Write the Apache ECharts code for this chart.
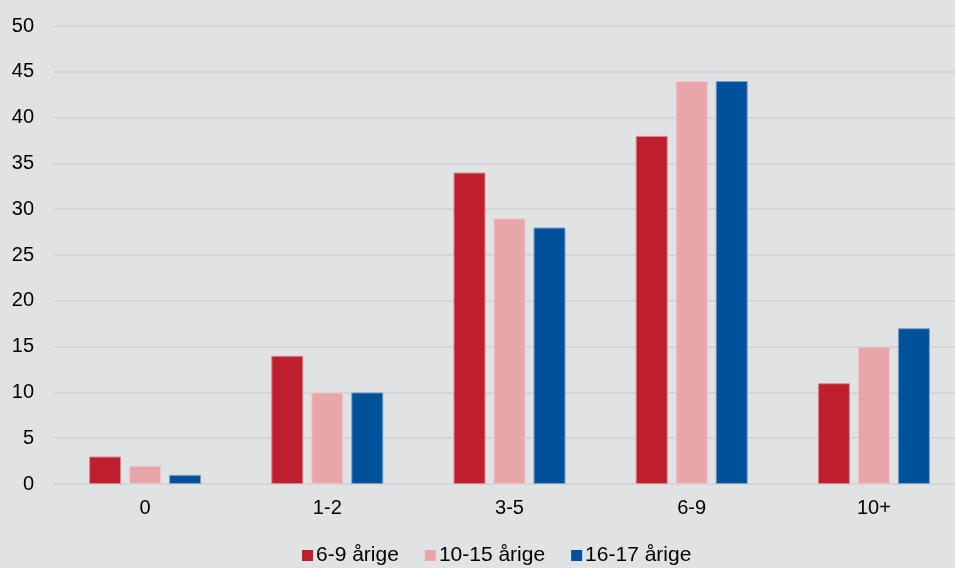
<!DOCTYPE html>
<html><head><meta charset="utf-8">
<script src="https://cdn.jsdelivr.net/npm/echarts@6/dist/echarts.min.js"></script>
<style>html,body{margin:0;padding:0;background:#e1e2e4;overflow:hidden;width:955px;height:568px}#c{width:965px;height:568px}</style>
</head><body><div id="c"></div>
<script>
const categories = ['0', '1-2', '3-5', '6-9', '10+'];
const seriesNames = ['6-9 årige', '10-15 årige', '16-17 årige'];
const s69 = [3, 14, 34, 38, 11];
const s1015 = [2, 10, 29, 44, 15];
const s1617 = [1, 10, 28, 44, 17];
const yTicks = [0, 5, 10, 15, 20, 25, 30, 35, 40, 45, 50];
const colors = ['#be1e2d', '#e8a6ab', '#00519c'];
const borders = ['#d98a92', '#f0c8cb', '#7f9fc4'];
const font = '"Liberation Sans", Arial, sans-serif';
const chart = echarts.init(document.getElementById('c'), null, {renderer: 'canvas'});
const data = [s69, s1015, s1617];
chart.setOption({
  backgroundColor: '#e1e2e4',
  animation: false,
  grid: {left: 54, right: 0, top: 26, bottom: 84},
  legend: {
    top: 545, left: 302, itemWidth: 11, itemHeight: 11, itemGap: 26,
    icon: 'rect', padding: 0,
    itemStyle: {borderWidth: 0},
    textStyle: {fontFamily: font, fontSize: 21, color: '#000', padding: [0, 0, 0, -2]},
    data: seriesNames
  },
  xAxis: {
    type: 'category', data: categories,
    axisLine: {show: true, lineStyle: {color: '#d4d5d6', width: 2}},
    axisTick: {show: false},
    axisLabel: {fontFamily: font, fontSize: 20, color: '#000', margin: 14}
  },
  yAxis: {
    type: 'value', min: yTicks[0], max: yTicks[yTicks.length - 1], interval: 5,
    axisLine: {show: false}, axisTick: {show: false},
    axisLabel: {fontFamily: font, fontSize: 20, color: '#000', margin: 20},
    splitLine: {lineStyle: {color: '#d4d5d6', width: 2}}
  },
  series: seriesNames.map((n, i) => ({
    name: n, type: 'bar', data: data[i], barWidth: 32, barGap: '25%',
    itemStyle: {color: colors[i], borderColor: borders[i], borderWidth: 1}
  }))
});
</script></body></html>
